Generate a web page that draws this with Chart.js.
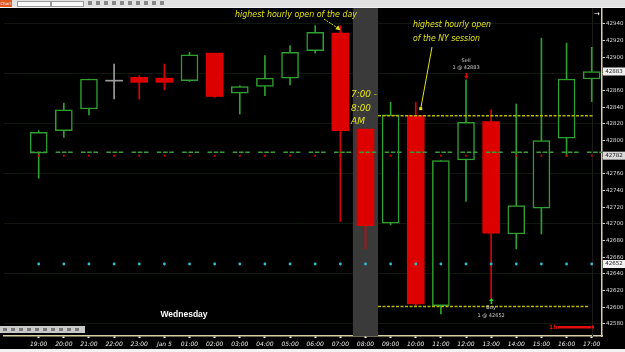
<!DOCTYPE html>
<html>
<head>
<meta charset="utf-8">
<script src="https://cdn.jsdelivr.net/npm/chart.js@4.4.1/dist/chart.umd.min.js"></script>
<style>
body{margin:0;background:#000;width:625px;height:352px;overflow:hidden;position:relative;font-family:"DejaVu Sans",sans-serif}
#wrap{position:absolute;left:0;top:0;width:625px;height:352px}
.topbar{position:absolute;left:0;top:0;width:625px;height:7px;background:#e2e2e2;border-bottom:1px solid #f4f4f4}
.topbar .btn{position:absolute;left:0;top:0;width:12px;height:7px;background:#e2581e;color:#fff;font-size:4px;line-height:7px;text-align:center}
.topbar .sel{position:absolute;top:1px;height:4px;background:#fafafa;border:1px solid #999}
.topbar .ico{position:absolute;top:1px;width:4px;height:4px;background:#888}
.minibar{position:absolute;left:0;top:326px;width:85px;height:7px;background:#c9c9c9}
.minibar .ico{position:absolute;top:2px;width:4px;height:3px;background:#777}
.bottom{position:absolute;left:0;top:349px;width:625px;height:3px;background:#f2f2f2}
</style>
</head>
<body>
<div id="wrap"><canvas id="chart" width="625" height="352"></canvas></div>
<div class="topbar">
  <div class="btn">Chart</div>
  <div class="sel" style="left:17px;width:32px"></div>
  <div class="sel" style="left:51px;width:31px"></div>
  <div class="ico" style="left:88px"></div>
  <div class="ico" style="left:96px"></div>
  <div class="ico" style="left:104px"></div>
  <div class="ico" style="left:112px"></div>
  <div class="ico" style="left:120px"></div>
  <div class="ico" style="left:128px"></div>
  <div class="ico" style="left:136px"></div>
  <div class="ico" style="left:144px"></div>
  <div class="ico" style="left:152px"></div>
  <div class="ico" style="left:160px"></div>
</div>
<div class="minibar">
  <div class="ico" style="left:3px"></div>
  <div class="ico" style="left:11px"></div>
  <div class="ico" style="left:19px"></div>
  <div class="ico" style="left:27px"></div>
  <div class="ico" style="left:35px"></div>
  <div class="ico" style="left:43px"></div>
  <div class="ico" style="left:51px"></div>
  <div class="ico" style="left:59px"></div>
  <div class="ico" style="left:67px"></div>
  <div class="ico" style="left:75px"></div>
</div>
<div class="bottom"></div>
<script>
// hourly bars, 19:00 to 17:00
var hours = ['19:00','20:00','21:00','22:00','23:00','Jan 5','01:00','02:00','03:00','04:00','05:00','06:00',
             '07:00','08:00','09:00','10:00','11:00','12:00','13:00','14:00','15:00','16:00','17:00'];
var opens  = [42785,42812,42838,42872,42876,42875,42872,42905,42857,42865,42875,42908,42929,42814,42701,42830,42602,42777,42823,42688,42719,42803,42874];
var highs  = [42812,42845,42874,42892,42878,42892,42906,42905,42866,42902,42914,42938,42938,42814,42846,42846,42776,42873,42837,42844,42923,42917,42912];
var lows   = [42755,42804,42831,42850,42850,42861,42871,42852,42832,42854,42867,42905,42703,42670,42699,42601,42592,42727,42611,42670,42688,42781,42847];
var closes = [42810,42837,42874,42872,42870,42870,42903,42853,42865,42875,42906,42930,42812,42698,42831,42604,42776,42822,42689,42722,42800,42874,42883];

var yTicks = [42580,42600,42620,42640,42660,42680,42700,42720,42740,42760,42780,42800,
              42820,42840,42860,42880,42900,42920,42940];

// levels
var dashLevel = 42786;
var dotLevel = 42782;
var cyanLevel = 42652;
var nyHigh = 42830;
var nyLow = 42601;
var badges = [42883, 42782, 42652];

var GREEN = '#2f9f2f', RED = '#dd0000', GREY = '#9a9a9a';

function candleColor(i) {
    if (closes[i] > opens[i]) return GREEN;
    if (closes[i] < opens[i]) return RED;
    return GREY;
}

var bodyData = hours.map(function(h, i) {
    var lo = Math.min(opens[i], closes[i]);
    var hi = Math.max(opens[i], closes[i]);
    if (hi - lo < 1) { lo -= 0.6; hi += 0.6; }
    return {x: i, y: [lo, hi]};
});
var wickData = hours.map(function(h, i) { return {x: i, y: [lows[i], highs[i]]}; });
var dotData = hours.map(function(h, i) { return {x: i, y: dotLevel}; });
var cyanData = hours.map(function(h, i) { return {x: i, y: cyanLevel}; });

var shadeIndex = hours.indexOf('08:00');

var backPlugin = {
    id: 'back',
    beforeDatasetsDraw: function(chart) {
        var c = chart.ctx, a = chart.chartArea, x = chart.scales.x;
        var l = x.getPixelForValue(shadeIndex - 0.5), r = x.getPixelForValue(shadeIndex + 0.5);
        c.save();
        c.fillStyle = '#3a3a3a';
        c.fillRect(l, a.top, r - l, a.bottom - a.top);
        c.strokeStyle = '#1c1c1c';
        c.lineWidth = 1;
        var cx = Math.round(x.getPixelForValue(hours.length - 1)) + 0.5;
        c.beginPath(); c.moveTo(cx, a.top); c.lineTo(cx, a.bottom); c.stroke();
        c.restore();
    }
};

var notePlugin = {
    id: 'notes',
    afterDatasetsDraw: function(chart) {
        var c = chart.ctx, x = chart.scales.x, y = chart.scales.y;
        c.save();
        var yellow = '#e2e21c';
        c.fillStyle = yellow;
        c.strokeStyle = yellow;
        c.textBaseline = 'middle';
        c.font = 'italic 9.5px "DejaVu Sans"';
        c.fillText('highest hourly open of the day', 235, 15, 122);
        c.fillText('highest hourly open', 413, 25, 78);
        c.fillText('of the NY session', 413, 39, 67);
        c.font = 'italic 9px "DejaVu Sans"';
        c.fillText('7:00 -', 351, 95, 26);
        c.fillText('8:00', 351, 109, 20);
        c.fillText('AM', 351, 122);

        // arrow to 07:00 open
        var ax = x.getPixelForValue(12), ay = y.getPixelForValue(opens[12]) - 3;
        c.lineWidth = 1;
        c.setLineDash([2, 1]);
        c.beginPath(); c.moveTo(324, 19); c.lineTo(ax - 1, ay - 1); c.stroke();
        c.setLineDash([]);
        c.beginPath(); c.moveTo(ax, ay); c.lineTo(ax - 5, ay - 1); c.lineTo(ax - 2, ay - 5); c.closePath(); c.fill();

        // line to 10:00 open
        var bx = x.getPixelForValue(15) + 5, by = y.getPixelForValue(opens[15]) - 7;
        c.beginPath(); c.moveTo(432, 47); c.lineTo(bx, by); c.stroke();
        c.fillRect(bx - 1.5, by - 1.5, 3, 3);

        // Wednesday
        c.fillStyle = '#ffffff';
        c.font = 'bold 8.5px "Liberation Sans"';
        c.textAlign = 'center';
        c.fillText('Wednesday', 184, 315);

        // trade marks
        c.fillStyle = '#c8c8c8';
        c.font = '5px "DejaVu Sans"';
        var sx = x.getPixelForValue(17), bxx = x.getPixelForValue(18);
        c.fillText('Sell', sx, 61);
        c.fillText('1 @ 42883', sx, 68);
        c.fillText('Buy', bxx, 308);
        c.fillText('1 @ 42652', bxx, 316);
        c.fillStyle = '#e00000';
        c.fillRect(sx - 0.5, 73, 1.5, 4);
        c.beginPath(); c.moveTo(sx - 2, 76); c.lineTo(sx + 2.5, 76); c.lineTo(sx + 0.25, 79); c.fill();
        c.fillStyle = '#20e020';
        c.fillRect(bxx - 0.5, 300, 1.5, 4);
        c.beginPath(); c.moveTo(bxx - 2, 301); c.lineTo(bxx + 2.5, 301); c.lineTo(bxx + 0.25, 298); c.fill();

        // timeframe
        c.fillStyle = '#e01010';
        c.textAlign = 'left';
        c.font = 'bold 6px "DejaVu Sans"';
        c.fillText('1h', 549, 327);
        c.fillRect(558, 326, 33, 2.5);
        c.fillRect(592, 325.5, 2, 3);

        c.fillStyle = '#ffffff';
        c.font = '7px "DejaVu Sans"';
        c.fillText('\u2192', 594, 14);
        c.restore();
    },
    afterDraw: function(chart) {
        var c = chart.ctx, y = chart.scales.y;
        c.save();
        c.font = '5.5px "DejaVu Sans"';
        c.textBaseline = 'middle';
        c.textAlign = 'center';
        badges.forEach(function(v, k) {
            var py = y.getPixelForValue(v);
            c.fillStyle = k === 1 ? '#d8d8d8' : '#f2f2f2';
            c.fillRect(603, py - 4, 22, 8);
            c.fillStyle = '#202020';
            c.fillText(String(v), 614, py);
        });
        c.restore();
    }
};

var ctx = document.getElementById('chart').getContext('2d');
var chart = new Chart(ctx, {
    type: 'bar',
    data: {
        datasets: [{
            label: 'body',
            data: bodyData,
            grouped: false,
            barThickness: 17,
            backgroundColor: hours.map(function(h, i) { return candleColor(i) === GREEN ? '#000000' : candleColor(i); }),
            borderColor: hours.map(function(h, i) { return candleColor(i); }),
            borderWidth: hours.map(function(h, i) { return candleColor(i) === GREEN ? 1.5 : 0; }),
            borderSkipped: false,
            order: 1
        }, {
            label: 'wick',
            data: wickData,
            grouped: false,
            barThickness: 1,
            backgroundColor: hours.map(function(h, i) { return candleColor(i); }),
            borderWidth: 0,
            order: 2
        }, {
            type: 'line',
            label: 'level',
            data: [{x: -0.33, y: dashLevel}, {x: 22.41, y: dashLevel}],
            borderColor: '#3b9b3b',
            borderWidth: 1.5,
            borderDash: [4.6, 1.6, 4.6, 1.6, 4.6, 8.3],
            pointRadius: 0,
            order: 0
        }, {
            type: 'line',
            label: 'dots',
            data: dotData,
            showLine: false,
            pointStyle: 'rect',
            pointRadius: 1.3,
            pointBackgroundColor: '#e00000',
            pointBorderWidth: 0,
            order: 0
        }, {
            type: 'line',
            label: 'cyan',
            data: cyanData,
            showLine: false,
            pointRadius: 1.4,
            pointBackgroundColor: '#22c6d6',
            pointBorderWidth: 0,
            order: 0
        }, {
            type: 'line',
            label: 'nyHigh',
            data: [{x: 13.5, y: nyHigh}, {x: 22.05, y: nyHigh}],
            borderColor: '#b8b800',
            borderWidth: 1.5,
            borderDash: [3, 1.5],
            pointRadius: 0,
            order: 0
        }, {
            type: 'line',
            label: 'nyLow',
            data: [{x: 13.5, y: nyLow}, {x: 21.9, y: nyLow}],
            borderColor: '#b8b800',
            borderWidth: 1.5,
            borderDash: [3, 1.5],
            pointRadius: 0,
            order: 0
        }]
    },
    options: {
        responsive: false,
        animation: false,
        layout: {padding: {top: 8, bottom: 3, left: 0, right: 0}},
        plugins: {legend: {display: false}, tooltip: {enabled: false}},
        scales: {
            x: {
                type: 'linear',
                offset: false,
                min: -1.38,
                max: 22.41,
                afterBuildTicks: function(scale) {
                    scale.ticks = hours.map(function(h, i) { return {value: i}; });
                },
                afterFit: function(scale) { scale.height = 13; },
                ticks: {
                    autoSkip: false,
                    maxRotation: 0,
                    padding: 3,
                    color: '#e6e6e6',
                    font: {size: 6, style: 'italic', family: 'DejaVu Sans'},
                    callback: function(v) { return hours[v]; }
                },
                grid: {offset: false, drawOnChartArea: false, tickLength: 2, tickColor: '#ffffff', tickWidth: 2},
                border: {color: '#d6cfa6', width: 1.5}
            },
            y: {
                position: 'right',
                min: 42565.6,
                max: 42959.2,
                afterBuildTicks: function(scale) {
                    scale.ticks = yTicks.map(function(v) { return {value: v}; });
                },
                afterFit: function(scale) { scale.width = 23; },
                ticks: {
                    padding: 1,
                    color: '#dadada',
                    font: {size: 5.5, family: 'DejaVu Sans'},
                    callback: function(v) { return String(v); }
                },
                grid: {
                    color: function(c) { return c.tick && c.tick.value % 60 === 40 ? '#0f170f' : 'rgba(0,0,0,0)'; },
                    tickColor: '#cfcfcf',
                    tickLength: 3
                },
                border: {color: '#d6cfa6', width: 1.5}
            }
        }
    },
    plugins: [backPlugin, notePlugin]
});
</script>
</body>
</html>
